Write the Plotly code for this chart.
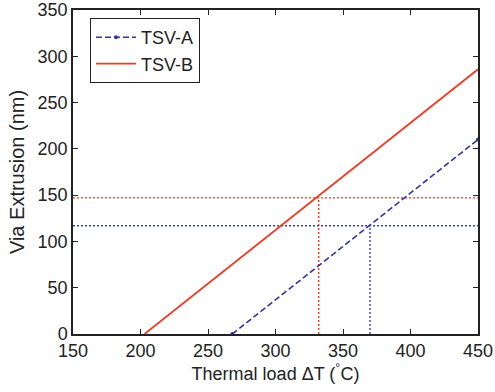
import plotly.graph_objects as go

# Data
tsv_a_x = [268, 450]
tsv_a_y = [0, 210]
tsv_b_x = [203, 450]
tsv_b_y = [0, 286]

# Reference (guide) lines
ref_b_level = 147
ref_b_temp = 332
ref_a_level = 117
ref_a_temp = 370

x_range = [150, 450]
y_range = [0, 350]
x_ticks = [150, 200, 250, 300, 350, 400, 450]
y_ticks = [0, 50, 100, 150, 200, 250, 300, 350]

blue = "#34349e"
blue_dot = "#3a3ad0"
red = "#ec3e26"
FONT = "Liberation Sans, Arial, sans-serif"

fig = go.Figure()

# guide lines (dotted)
dot = dict(dash="2px,2px", width=1.4)
fig.add_trace(go.Scatter(x=x_range, y=[ref_b_level, ref_b_level], mode="lines",
                         line=dict(color=red, **dot), showlegend=False))
fig.add_trace(go.Scatter(x=[ref_b_temp, ref_b_temp], y=[0, ref_b_level], mode="lines",
                         line=dict(color=red, **dot), showlegend=False))
fig.add_trace(go.Scatter(x=x_range, y=[ref_a_level, ref_a_level], mode="lines",
                         line=dict(color=blue_dot, **dot), showlegend=False))
fig.add_trace(go.Scatter(x=[ref_a_temp, ref_a_temp], y=[0, ref_a_level], mode="lines",
                         line=dict(color=blue_dot, **dot), showlegend=False))

fig.add_trace(go.Scatter(x=tsv_a_x, y=tsv_a_y, mode="lines+markers", name="TSV-A",
                         line=dict(color=blue, dash="6px,3px", width=1.6),
                         marker=dict(size=4, color=blue)))
fig.add_trace(go.Scatter(x=tsv_b_x, y=tsv_b_y, mode="lines", name="TSV-B",
                         line=dict(color=red, width=1.8)))

axis_common = dict(
    showline=True, linecolor="#222", linewidth=1.5, mirror="ticks",
    ticks="inside", ticklen=5, tickwidth=1.2, tickcolor="#222",
    showgrid=False, zeroline=False,
    tickfont=dict(family=FONT, size=18, color="#222"),
)

fig.update_layout(
    width=495, height=392,
    margin=dict(l=73, r=17, t=10, b=58, autoexpand=False),
    paper_bgcolor="white", plot_bgcolor="white",
    font=dict(family=FONT, size=18, color="#222"),
    xaxis=dict(range=x_range, tickvals=x_ticks,
               title=dict(text="Thermal load \u0394T (<sup>\u00b0</sup>C)", standoff=2,
                          font=dict(size=18)), **axis_common),
    yaxis=dict(range=y_range, tickvals=y_ticks,
               title=dict(text="Via Extrusion (nm)", standoff=8, font=dict(size=20)),
               **axis_common),
    legend=dict(x=0.042, y=0.975, xanchor="left", yanchor="top",
                bordercolor="#222", borderwidth=1, bgcolor="white",
                font=dict(size=18), tracegroupgap=0, itemwidth=40),
)

fig.write_html("out.html")
